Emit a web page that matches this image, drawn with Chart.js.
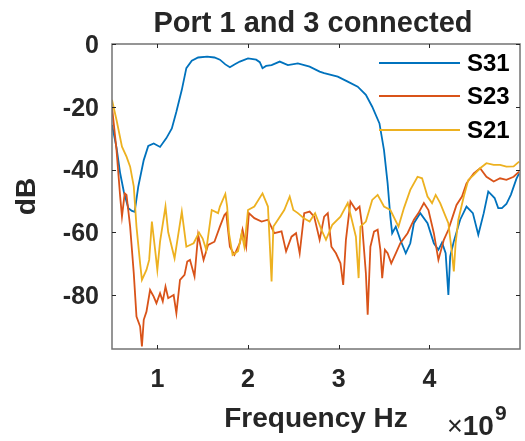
<!DOCTYPE html>
<html>
<head>
<meta charset="utf-8">
<script src="https://cdn.jsdelivr.net/npm/chart.js@4.4.1/dist/chart.umd.min.js"></script>
<style>
  html, body { margin: 0; padding: 0; background: #fff; }
  #wrap { width: 525px; height: 441px; }
</style>
</head>
<body>
<div id="wrap"><canvas id="chart" width="525" height="441"></canvas></div>
<script>
// frequencies are in units of 1e9 Hz (the axis shows x10^9)
const s31Freq = [0.50, 0.55, 0.59, 0.63, 0.68, 0.72, 0.75, 0.79, 0.85, 0.90, 0.96, 1.03, 1.10, 1.16, 1.21, 1.27, 1.32, 1.38, 1.45, 1.55, 1.63, 1.69, 1.75, 1.80, 1.86, 1.91, 2.00, 2.09, 2.13, 2.16, 2.20, 2.26, 2.35, 2.44, 2.55, 2.68, 2.79, 2.84, 2.99, 3.10, 3.21, 3.30, 3.37, 3.45, 3.50, 3.54, 3.57, 3.59, 3.63, 3.68, 3.74, 3.79, 3.83, 3.90, 3.98, 4.05, 4.10, 4.14, 4.18, 4.21, 4.23, 4.27, 4.34, 4.41, 4.48, 4.54, 4.60, 4.65, 4.72, 4.76, 4.80, 4.85, 4.90, 4.96, 4.99];
const s31dB = [-25.8, -33, -41.2, -47, -52.3, -53.2, -53.5, -45.4, -37, -32.5, -31.7, -32.8, -30, -26.9, -21.6, -14.6, -7.7, -5.3, -4.3, -4.0, -4.3, -5.0, -6.5, -7.4, -6.4, -5.6, -4.6, -5.0, -5.8, -7.7, -7.0, -6.7, -5.6, -6.7, -6.2, -7.2, -8.8, -9.3, -10.4, -12, -13.6, -16.2, -20, -25.3, -33.8, -44.4, -55, -60.3, -58.2, -62.4, -66.7, -63.5, -57.1, -53.9, -57.1, -63.5, -65.6, -63.3, -66.7, -80, -67.7, -62.9, -56, -51.8, -53.9, -60.8, -53.9, -47, -49.1, -52.3, -52.3, -51, -48, -43, -41.2];

const s23Freq = [0.50, 0.55, 0.59, 0.61, 0.64, 0.66, 0.70, 0.74, 0.77, 0.81, 0.83, 0.85, 0.88, 0.92, 0.96, 0.99, 1.03, 1.06, 1.09, 1.12, 1.18, 1.21, 1.25, 1.30, 1.33, 1.36, 1.41, 1.45, 1.51, 1.56, 1.63, 1.69, 1.74, 1.76, 1.80, 1.85, 1.91, 1.94, 1.98, 2.01, 2.07, 2.15, 2.22, 2.29, 2.37, 2.42, 2.48, 2.53, 2.57, 2.62, 2.68, 2.73, 2.79, 2.84, 2.88, 2.92, 2.97, 3.02, 3.05, 3.08, 3.13, 3.19, 3.23, 3.26, 3.30, 3.32, 3.35, 3.39, 3.43, 3.46, 3.48, 3.51, 3.54, 3.58, 3.63, 3.68, 3.76, 3.83, 3.88, 3.94, 3.99, 4.05, 4.10, 4.16, 4.21, 4.27, 4.30, 4.36, 4.41, 4.49, 4.56, 4.63, 4.71, 4.78, 4.85, 4.93, 4.99];
const s23dB = [-20, -33.8, -48.6, -55, -47.6, -48.1, -58.2, -73, -86.9, -90, -96.4, -87.9, -85.3, -78.4, -80.5, -82.6, -79.4, -82, -77.3, -81, -80, -85.8, -75.2, -73.6, -69.3, -68.8, -74.1, -60.8, -68.8, -64, -63, -58.2, -54.5, -53.9, -64.6, -67.2, -63.5, -59.2, -64.6, -53.9, -55.5, -56.6, -56, -60.3, -59.7, -66.1, -61.4, -60.3, -66.7, -53.9, -53.4, -55, -62.4, -55, -53.9, -64.6, -66.7, -69.9, -76.8, -62.4, -50.2, -52.9, -51.8, -58.2, -73, -86.3, -64.6, -59.8, -59.2, -65.6, -74.6, -65.6, -66.7, -69.9, -66.7, -63.5, -60.3, -56, -53.9, -50.7, -52.9, -60.3, -68.8, -62.4, -59.2, -53.9, -51.3, -48.6, -44.4, -41.2, -39.6, -42.3, -43.8, -42.8, -43.3, -42.3, -40.7];

const s21Freq = [0.50, 0.55, 0.61, 0.66, 0.70, 0.74, 0.77, 0.81, 0.83, 0.88, 0.91, 0.94, 0.98, 1.00, 1.03, 1.09, 1.12, 1.19, 1.27, 1.32, 1.40, 1.46, 1.50, 1.54, 1.60, 1.67, 1.69, 1.75, 1.77, 1.79, 1.83, 1.89, 1.93, 1.96, 2.00, 2.07, 2.16, 2.22, 2.26, 2.28, 2.33, 2.40, 2.46, 2.50, 2.55, 2.62, 2.68, 2.74, 2.81, 2.86, 2.93, 3.02, 3.10, 3.15, 3.19, 3.22, 3.24, 3.30, 3.37, 3.43, 3.50, 3.57, 3.66, 3.72, 3.79, 3.87, 3.92, 3.98, 4.03, 4.07, 4.12, 4.18, 4.21, 4.25, 4.27, 4.29, 4.32, 4.38, 4.43, 4.49, 4.56, 4.63, 4.71, 4.78, 4.85, 4.93, 4.99];
const s21dB = [-17.8, -24.2, -32.7, -35.9, -39.1, -45.4, -58.2, -69.9, -75.2, -72, -68.8, -56.6, -66.7, -72, -63, -51.8, -60, -68.3, -53.4, -64.6, -63.5, -60.1, -62, -65.6, -52.9, -53.9, -51.8, -47.8, -51.8, -60.3, -67.2, -66, -60.3, -64.6, -52.9, -51.8, -47.6, -51.8, -75.7, -58.2, -56, -52.9, -48.6, -52.9, -53.9, -55.6, -56.6, -53.9, -59.2, -62.4, -57.6, -55, -50.7, -56.6, -61.4, -74.6, -58.2, -56.6, -49.7, -48.1, -51.8, -52.9, -58.2, -52.3, -46.5, -42.3, -42.8, -48.6, -50.7, -48.1, -50.7, -55, -57.1, -66.7, -72.5, -63.5, -56, -48.6, -43.3, -41.7, -39.6, -38, -38.5, -38.5, -39.1, -39, -37.5];

const seriesNames = ['S31', 'S23', 'S21'];
const seriesColors = ['#0072BD', '#D95319', '#EDB120'];
const xTicks = [1, 2, 3, 4];
const yTicks = [0, -20, -40, -60, -80];
const titleText = 'Port 1 and 3 connected';

const FONT = '"Liberation Sans", Arial, sans-serif';
const INK = '#262626';

function toPoints(xs, ys) {
    return xs.map((x, i) => ({ x: x, y: ys[i] }));
}

// MATLAB-like axes: box with inward ticks, title over the axes, legend, exponent label
const matlabAxes = {
    id: 'matlabAxes',
    afterDatasetsDraw(chart) {
        const ctx = chart.ctx;
        const area = chart.chartArea;
        const xs = chart.scales.x;
        const ys = chart.scales.y;

        ctx.save();
        ctx.strokeStyle = '#737373';
        ctx.lineWidth = 1.5;
        ctx.strokeRect(area.left, area.top, area.right - area.left, area.bottom - area.top);

        ctx.strokeStyle = INK;
        ctx.lineWidth = 1;
        ctx.beginPath();
        xTicks.forEach(v => {
            const px = Math.round(xs.getPixelForValue(v)) + 0.5;
            ctx.moveTo(px, area.bottom); ctx.lineTo(px, area.bottom - 4);
            ctx.moveTo(px, area.top); ctx.lineTo(px, area.top + 4);
        });
        yTicks.forEach(v => {
            const py = Math.round(ys.getPixelForValue(v)) + 0.5;
            ctx.moveTo(area.left, py); ctx.lineTo(area.left + 4, py);
            ctx.moveTo(area.right, py); ctx.lineTo(area.right - 4, py);
        });
        ctx.stroke();

        // title, centred over the axes
        ctx.fillStyle = INK;
        ctx.font = 'bold 29px ' + FONT;
        ctx.textAlign = 'center';
        ctx.textBaseline = 'alphabetic';
        ctx.fillText(titleText, (area.left + area.right) / 2 - 3, 32);

        // legend
        const rows = [19, 52, 86];
        chart.data.datasets.forEach((ds, i) => {
            const y = area.top + rows[i];
            ctx.strokeStyle = ds.borderColor;
            ctx.lineWidth = 1.8;
            ctx.beginPath();
            ctx.moveTo(area.right - 141, y);
            ctx.lineTo(area.right - 60, y);
            ctx.stroke();
            ctx.fillStyle = '#000';
            ctx.font = 'bold 24px ' + FONT;
            ctx.textBaseline = 'middle';
            ctx.textAlign = 'left';
            ctx.fillText(ds.label, area.right - 53, y + 1);
        });

        // x10^9
        ctx.fillStyle = INK;
        ctx.textBaseline = 'alphabetic';
        ctx.textAlign = 'left';
        ctx.font = '27px ' + FONT;
        ctx.fillText('\u00d7', 447, 435);
        const wx = ctx.measureText('\u00d7').width;
        ctx.font = 'bold 28px ' + FONT;
        ctx.fillText('10', 447 + wx, 435);
        const w10 = ctx.measureText('10').width;
        ctx.font = 'bold 21px ' + FONT;
        ctx.fillText('9', 448 + wx + w10, 420);
        ctx.restore();
    }
};

new Chart(document.getElementById('chart'), {
    type: 'scatter',
    data: {
        datasets: [
            { label: seriesNames[0], data: toPoints(s31Freq, s31dB), borderColor: seriesColors[0], order: 3 },
            { label: seriesNames[1], data: toPoints(s23Freq, s23dB), borderColor: seriesColors[1], order: 2 },
            { label: seriesNames[2], data: toPoints(s21Freq, s21dB), borderColor: seriesColors[2], order: 1 }
        ].map(ds => Object.assign(ds, {
            showLine: true,
            borderWidth: 1.8,
            pointRadius: 0,
            tension: 0,
            backgroundColor: ds.borderColor
        }))
    },
    options: {
        responsive: false,
        animation: false,
        events: [],
        layout: { padding: { left: 0, right: 5, top: 44, bottom: 0 } },
        plugins: {
            legend: { display: false },
            tooltip: { enabled: false },
            title: { display: false }
        },
        scales: {
            x: {
                type: 'linear',
                min: 0.5,
                max: 5,
                grid: { display: false, drawTicks: false },
                border: { display: false },
                afterBuildTicks: scale => { scale.ticks = xTicks.map(v => ({ value: v })); },
                afterFit: scale => { scale.height = 92; },
                ticks: {
                    color: INK,
                    padding: 16,
                    font: { family: FONT, size: 25, weight: 'bold' }
                },
                title: {
                    display: true,
                    text: 'Frequency Hz',
                    color: INK,
                    padding: { top: 0, bottom: 5 },
                    font: { family: FONT, size: 28, weight: 'bold' }
                }
            },
            y: {
                type: 'linear',
                min: -97.2,
                max: 0,
                grid: { display: false, drawTicks: false },
                border: { display: false },
                afterBuildTicks: scale => { scale.ticks = yTicks.map(v => ({ value: v })); },
                afterFit: scale => { scale.width = 112; },
                ticks: {
                    color: INK,
                    padding: 13,
                    labelOffset: 2,
                    font: { family: FONT, size: 25, weight: 'bold' }
                },
                title: {
                    display: true,
                    text: 'dB',
                    color: INK,
                    padding: { top: 10, bottom: 0 },
                    font: { family: FONT, size: 28, weight: 'bold' }
                }
            }
        }
    },
    plugins: [matlabAxes]
});
</script>
</body>
</html>
